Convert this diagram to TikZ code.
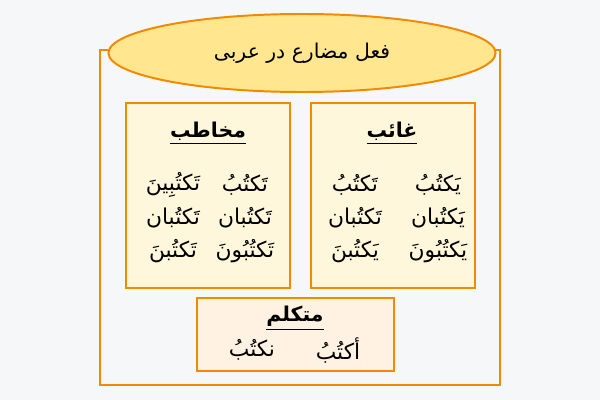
\documentclass[tikz,border=0pt]{standalone}
\usepackage{fontspec}
\setmainfont{DejaVu Sans}
\newfontfamily\arabicfont[Script=Arabic]{DejaVu Sans}
\TeXXeTstate=1
\usetikzlibrary{shapes.geometric}

\definecolor{edgeorange}{HTML}{F18A00}
\definecolor{titlefill}{HTML}{FFE68F}
\definecolor{boxfill}{HTML}{FFF7DB}
\definecolor{selffill}{HTML}{FFF2E2}
\definecolor{pagebg}{HTML}{F6F7F9}

\newcommand{\ar}[1]{{\arabicfont\beginR #1\endR}}

\begin{document}
\begin{tikzpicture}[
    x=0.025cm,
    y=-0.025cm,
    line width=1.4pt
]

% =========================
% Styles
% =========================
\tikzstyle{frame} = [
    rectangle, draw=edgeorange,
    minimum width=10cm,
    minimum height=8.375cm
]

\tikzstyle{titlebox} = [
    ellipse, draw=edgeorange,
    fill=titlefill,
    minimum width=9.675cm,
    minimum height=1.95cm,
    font=\fontsize{14.5}{17}\selectfont
]

\tikzstyle{group} = [
    rectangle, draw=edgeorange,
    fill=boxfill,
    minimum width=4.1cm,
    minimum height=4.625cm
]

\tikzstyle{heading} = [font=\fontsize{14.5}{17}\selectfont\bfseries]
\tikzstyle{verb} = [font=\fontsize{15.5}{18}\selectfont]

% =========================
% Frame and boxes
% =========================
\fill[pagebg] (0,0) rectangle (600,400);

\node[frame] (outer) at (300,217.5) {};

\node[titlebox] (title) at (302,53) {\ar{فعل مضارع در عربی}};

\node[group] (second) at (208,195.5) {};
\node[group] (third) at (393,195.5) {};

\node[group, fill=selffill, minimum width=4.925cm,
    minimum height=1.825cm] (first) at (295.5,334.5) {};

% =========================
% Texts
% =========================
\node[heading] (secondhead) at (208,133) {\underline{\ar{مخاطب}}};
\node[verb] (s11) at (245,185) {\ar{تَکتُبُ}};
\node[verb] (s12) at (173,185) {\ar{تَکتُبِینَ}};
\node[verb] (s21) at (245,218) {\ar{تَکتُبان}};
\node[verb] (s22) at (173,218) {\ar{تَکتُبان}};
\node[verb] (s31) at (245,251) {\ar{تَکتُبُونَ}};
\node[verb] (s32) at (173,251) {\ar{تَکتُبنَ}};

\node[heading] (thirdhead) at (392,133) {\underline{\ar{غائب}}};
\node[verb] (t11) at (438,185) {\ar{يَکتُبُ}};
\node[verb] (t12) at (355,185) {\ar{تَکتُبُ}};
\node[verb] (t21) at (438,218) {\ar{يَکتُبان}};
\node[verb] (t22) at (355,218) {\ar{تَکتُبان}};
\node[verb] (t31) at (438,251) {\ar{يَکتُبُونَ}};
\node[verb] (t32) at (355,251) {\ar{يَکتُبنَ}};

\node[heading] (firsthead) at (295,318) {\underline{\ar{متکلم}}};
\node[verb] (f1) at (338,350) {\ar{أكتُبُ}};
\node[verb] (f2) at (252,350) {\ar{نكتُبُ}};

\end{tikzpicture}
\end{document}
